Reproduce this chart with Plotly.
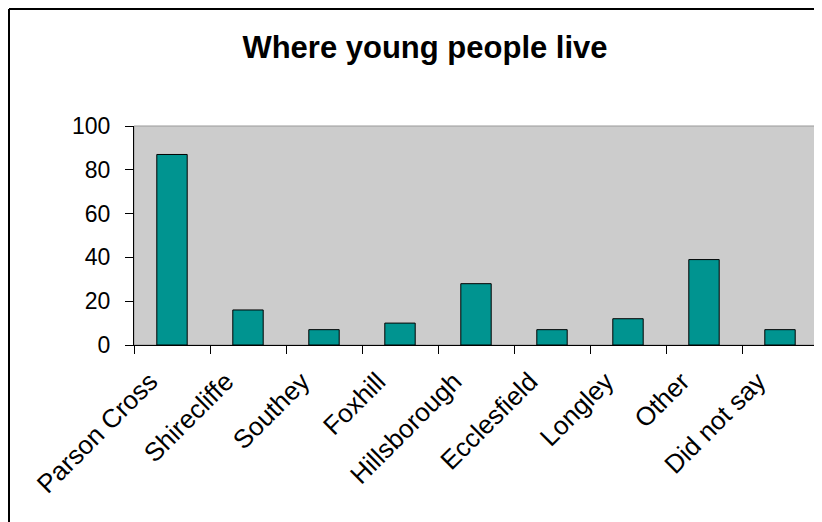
import plotly.graph_objects as go

categories = ["Parson Cross", "Shirecliffe", "Southey", "Foxhill", "Hillsborough",
              "Ecclesfield", "Longley", "Other", "Did not say"]
values = [87, 16, 7, 10, 28, 7, 12, 39, 7]
y_ticks = [0, 20, 40, 60, 80, 100]

OFF = 8  # page body margin
W, H = 822 - OFF, 522 - OFF
# target plot area in window pixels: x 134..818, y 126..345
ML, MT = 134 - OFF, 126 - OFF
MR = W - (818 - OFF)
MB = H - (345 - OFF)
pw = W - ML - MR
ph = H - MT - MB

def px_to_paper_x(px):
    return (px - OFF - ML) / pw

def px_to_paper_y(py):
    return (H - MB - (py - OFF)) / ph

fig = go.Figure()
fig.add_trace(go.Bar(
    x=categories, y=values,
    marker=dict(color="#009490", line=dict(color="#000000", width=1)),
    width=0.4,
))

fig.update_layout(
    width=W, height=H,
    margin=dict(l=ML, r=MR, t=MT, b=MB, autoexpand=False),
    paper_bgcolor="white",
    plot_bgcolor="#CCCCCC",
    showlegend=False,
    title=dict(text="<b>Where young people live</b>", x=(425 - OFF) / W, xanchor="center",
               y=1 - (47 - OFF) / H, yanchor="middle",
               font=dict(family="Liberation Sans, Arial", size=31, color="black")),
    font=dict(family="Liberation Sans, Arial", color="black"),
    xaxis=dict(
        type="category", tickangle=-45, tickson="boundaries",
        ticks="outside", ticklen=8, tickcolor="black", tickwidth=1,
        showline=True, linecolor="black", linewidth=1,
        showgrid=False, tickfont=dict(size=26, color="black"),
        ticklabelshift=-22, ticklabelstandoff=10,
        range=[-0.5, len(categories) - 0.5],
    ),
    yaxis=dict(
        range=[0, 100], tickvals=y_ticks, ticks="outside", ticklen=8,
        tickcolor="black", showline=True, linecolor="black", linewidth=1,
        showgrid=False, zeroline=False, tickfont=dict(size=23, color="black"),
        ticklabelstandoff=10,
    ),
    yaxis2=dict(
        range=[0, 100], tickvals=y_ticks, ticks="inside", ticklen=8,
        tickcolor="black", showticklabels=False, showline=False,
        showgrid=False, zeroline=False, overlaying="y", side="left",
        anchor="x",
    ),
    shapes=[
        dict(type="rect", xref="paper", yref="paper", x0=0, x1=1, y0=0, y1=1,
             line=dict(color="#999999", width=1), layer="below"),
        dict(type="line", xref="paper", yref="paper",
             x0=px_to_paper_x(9), x1=px_to_paper_x(830),
             y0=px_to_paper_y(9), y1=px_to_paper_y(9),
             line=dict(color="black", width=2)),
        dict(type="line", xref="paper", yref="paper",
             x0=px_to_paper_x(9), x1=px_to_paper_x(9),
             y0=px_to_paper_y(9), y1=px_to_paper_y(530),
             line=dict(color="black", width=2)),
    ],
)

fig.write_html("out.html")
